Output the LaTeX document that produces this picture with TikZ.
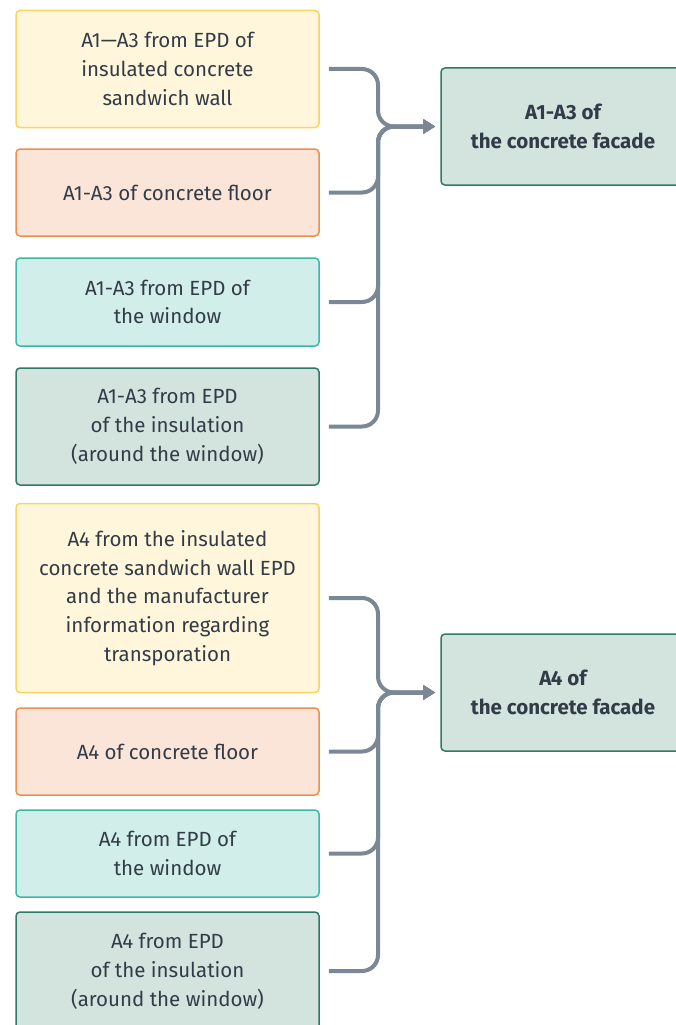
\documentclass[tikz,border=0pt]{standalone}
\usepackage{fontspec}
\setmainfont{Fira Sans}
\usetikzlibrary{arrows.meta}

\definecolor{wallfill}{HTML}{FFF6DC}
\definecolor{wallline}{HTML}{F8D460}
\definecolor{floorfill}{HTML}{FBE5D9}
\definecolor{floorline}{HTML}{EC8F50}
\definecolor{windowfill}{HTML}{D2EEEA}
\definecolor{windowline}{HTML}{3BB8A7}
\definecolor{insfill}{HTML}{D3E4DF}
\definecolor{insline}{HTML}{2D7B66}
\definecolor{txtgray}{HTML}{323C46}
\definecolor{linkgray}{HTML}{7B8794}

\begin{document}
\begin{tikzpicture}[x=1pt,y=-1pt,
    box/.style={draw, line width=1.5pt, rounded corners=4pt, align=center,
      minimum width=303pt, inner sep=0pt, text=txtgray,
      font=\fontsize{20.5}{28.8}\selectfont},
    wall/.style={box, fill=wallfill, draw=wallline},
    floor/.style={box, fill=floorfill, draw=floorline},
    window/.style={box, fill=windowfill, draw=windowline},
    insul/.style={box, fill=insfill, draw=insline},
    facade/.style={insul, minimum width=244pt, minimum height=117pt,
      font=\fontsize{20.5}{28.8}\selectfont\bfseries},
    link/.style={draw=linkgray, line width=4pt, rounded corners=16pt,
      shorten <=9pt, shorten >=5pt, -{Triangle[length=12pt,width=14pt]}}]
  \useasboundingbox (0,0) rectangle (675,1025);

  % A1-A3
  \node[wall, minimum height=117pt] (wall1) at (167.5,69) {A1—A3 from EPD of\\insulated concrete\\sandwich wall};
  \node[floor, minimum height=87pt] (floor1) at (167.5,192.5) {A1-A3 of concrete floor};
  \node[window, minimum height=88pt] (window1) at (167.5,302) {A1-A3 from EPD of\\the window};
  \node[insul, minimum height=117pt] (insul1) at (167.5,426.5) {A1-A3 from EPD\\of the insulation\\(around the window)};
  \node[facade] (facade1) at (563,126.5) {A1-A3 of\\the concrete facade};
  \coordinate (join1) at (378,126.5);

  \draw[link] (wall1.east) -| (join1) -- (facade1.west);
  \draw[link] (floor1.east) -| (join1) -- (facade1.west);
  \draw[link] (window1.east) -| (join1) -- (facade1.west);
  \draw[link] (insul1.east) -| (join1) -- (facade1.west);

  % A4
  \node[wall, minimum height=189pt] (wall2) at (167.5,598) {A4 from the insulated\\concrete sandwich wall EPD\\and the manufacturer\\information regarding\\transporation};
  \node[floor, minimum height=87pt] (floor2) at (167.5,751.5) {A4 of concrete floor};
  \node[window, minimum height=87pt] (window2) at (167.5,853.5) {A4 from EPD of\\the window};
  \node[insul, minimum height=118pt] (insul2) at (167.5,971) {A4 from EPD\\of the insulation\\(around the window)};
  \node[facade] (facade2) at (563,692.5) {A4 of\\the concrete facade};
  \coordinate (join2) at (378,692.5);

  \draw[link] (wall2.east) -| (join2) -- (facade2.west);
  \draw[link] (floor2.east) -| (join2) -- (facade2.west);
  \draw[link] (window2.east) -| (join2) -- (facade2.west);
  \draw[link] (insul2.east) -| (join2) -- (facade2.west);
\end{tikzpicture}
\end{document}
